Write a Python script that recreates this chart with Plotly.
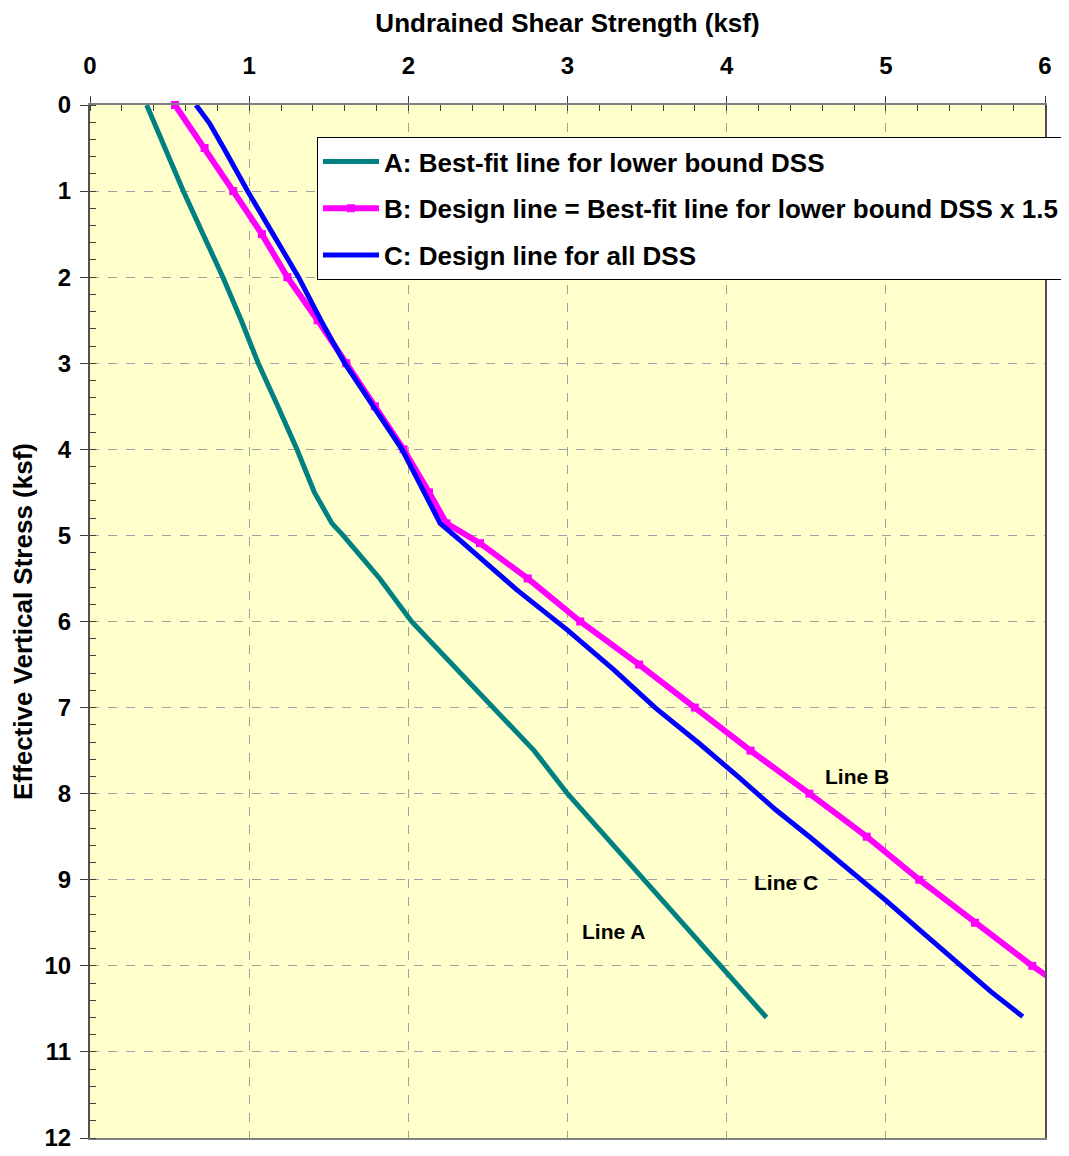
import plotly.graph_objects as go

# Line A: best-fit line for lower bound DSS
a_stress = [0, 0.5, 1.0, 1.5, 2.0, 2.5, 3.0, 3.5, 4.0, 4.5, 4.86, 5.0, 5.36, 5.5, 6.0, 6.5,
            7.0, 7.5, 8.0, 8.5, 9.0, 9.5, 10.0, 10.3, 10.6]
a_su = [0.356, 0.47, 0.586, 0.71, 0.835, 0.95, 1.057, 1.18, 1.30, 1.41, 1.52, 1.59, 1.76, 1.82,
        2.02, 2.28, 2.53, 2.79, 3.0, 3.24, 3.48, 3.72, 3.96, 4.1, 4.25]

# Line B: design line = best-fit lower bound x 1.5
b_stress = [0, 0.5, 1.0, 1.5, 2.0, 2.5, 3.0, 3.5, 4.0, 4.5, 4.86, 5.09, 5.5, 6.0, 6.5, 7.0,
            7.5, 8.0, 8.5, 9.0, 9.5, 10.0, 10.14]
b_su = [0.534, 0.72, 0.90, 1.08, 1.24, 1.43, 1.61, 1.79, 1.97, 2.13, 2.24, 2.45, 2.75, 3.08,
        3.45, 3.80, 4.15, 4.52, 4.88, 5.21, 5.56, 5.92, 6.03]

# Line C: design line for all DSS
c_stress = [0, 0.21, 0.5, 1.0, 1.5, 2.0, 2.5, 3.0, 3.5, 4.0, 4.5, 4.86, 5.05, 5.32, 5.63,
            6.1, 6.56, 7.0, 7.42, 7.8, 8.19, 8.5, 8.93, 9.24, 9.58, 10.0, 10.3, 10.59]
c_su = [0.666, 0.75, 0.84, 0.99, 1.15, 1.31, 1.45, 1.60, 1.78, 1.96, 2.10, 2.20, 2.32,
        2.49, 2.68, 3.0, 3.29, 3.55, 3.83, 4.07, 4.31, 4.52, 4.80, 5.0, 5.21, 5.47, 5.66, 5.86]

legend_names = ["A: Best-fit line for lower bound DSS",
                "B: Design line = Best-fit line for lower bound DSS x 1.5",
                "C: Design line for all DSS"]

line_labels = ["Line A", "Line B", "Line C"]
label_x = [3.29, 4.82, 4.37]
label_y = [9.6, 7.8, 9.03]

FONT = "Liberation Sans, Arial, sans-serif"

fig = go.Figure()
fig.add_trace(go.Scatter(x=a_su, y=a_stress, mode="lines", name=legend_names[0],
                         legendgroup="a", line=dict(color="#008080", width=5)))
fig.add_trace(go.Scatter(x=b_su, y=b_stress, mode="lines+markers", name=legend_names[1],
                         legendgroup="b", cliponaxis=False,
                         line=dict(color="#FF00FF", width=6),
                         marker=dict(symbol="square", size=8, color="#FF00FF")))
fig.add_trace(go.Scatter(x=c_su, y=c_stress, mode="lines", name=legend_names[2],
                         legendgroup="c", line=dict(color="#0000FF", width=5)))

for t, xx, yy in zip(line_labels, label_x, label_y):
    fig.add_annotation(x=xx, y=yy, text=f"<b>{t}</b>", showarrow=False,
                       font=dict(family=FONT, size=21, color="black"))

fig.update_layout(
    width=1069, height=1156,
    margin=dict(l=82, r=32, t=97, b=26),
    paper_bgcolor="white", plot_bgcolor="#FFFFCC",
    font=dict(family=FONT, size=24, color="black"),
    showlegend=True,
    legend=dict(x=0.2377, y=0.969, xanchor="left", yanchor="top",
                bgcolor="white", bordercolor="black", borderwidth=1,
                font=dict(family=FONT, size=26, color="black", weight="bold"),
                tracegroupgap=10, itemwidth=56),
    xaxis=dict(side="top", range=[0, 6], dtick=1, tick0=0, automargin=False,
               title=dict(text="<b>Undrained Shear Strength (ksf)</b>", standoff=20,
                          font=dict(family=FONT, size=26)),
               tickfont=dict(family=FONT, size=24, weight="bold"),
               ticks="outside", ticklen=7, tickwidth=1, tickcolor="#404040",
               ticklabelstandoff=12,
               showline=True, linecolor="#808080", linewidth=2, mirror=True,
               showgrid=True, gridcolor="#A0A0A0", griddash="dash", gridwidth=1,
               zeroline=False,
               minor=dict(dtick=0.2, ticks="inside", ticklen=6, tickcolor="#404040",
                          showgrid=False)),
    yaxis=dict(range=[12, 0], dtick=1, tick0=0, automargin=False,
               title=dict(text="<b>Effective Vertical Stress (ksf)</b>", standoff=18,
                          font=dict(family=FONT, size=26)),
               tickfont=dict(family=FONT, size=24, weight="bold"),
               ticks="outside", ticklen=8, tickwidth=1, tickcolor="#404040",
               ticklabelstandoff=4,
               showline=True, linecolor="#505050", linewidth=2, mirror=True,
               showgrid=True, gridcolor="#A0A0A0", griddash="dash", gridwidth=1,
               zeroline=False,
               minor=dict(dtick=0.2, ticks="inside", ticklen=6, tickcolor="#404040",
                          showgrid=False)),
)

fig.write_html("out.html")
